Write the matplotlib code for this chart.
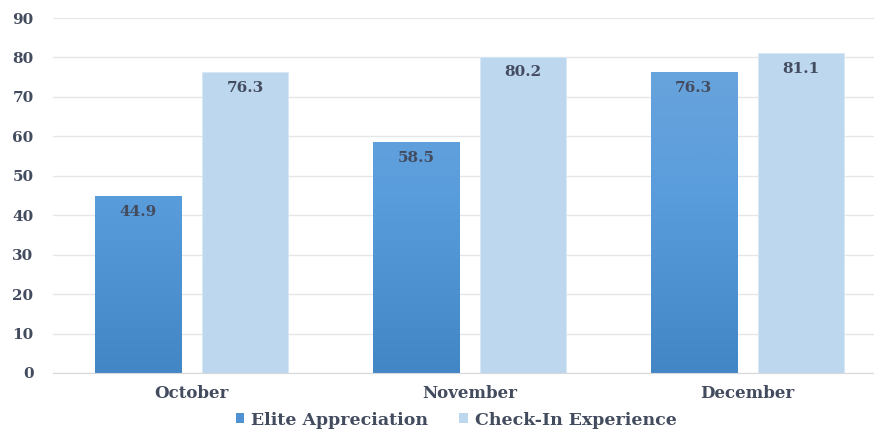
import numpy as np
import matplotlib.pyplot as plt
from matplotlib.patches import Patch
from matplotlib.colors import LinearSegmentedColormap

months = ["October", "November", "December"]
elite = [44.9, 58.5, 76.3]
checkin = [76.3, 80.2, 81.1]
series_names = ["Elite Appreciation", "Check-In Experience"]

text_color = "#434c5e"
plt.rcParams["font.family"] = ["DejaVu Serif"]
plt.rcParams["font.weight"] = "bold"

fig = plt.figure(figsize=(8.74, 4.30), dpi=100)
ax = fig.add_axes([53 / 874, 57 / 430, 833 / 874, 355 / 430])

x = np.arange(len(months))
w = 0.31
off = 0.193

grad = LinearSegmentedColormap.from_list("g", ["#4286c6", "#5a9ddc", "#6ea6dc"])
dark_bars = ax.bar(x - off, elite, w, color="#5b9bd5", edgecolor="#cfe0f2", linewidth=0.6, zorder=2)
light_bars = ax.bar(x + off, checkin, w, color="#bdd7ee", edgecolor="#d8e7f5", linewidth=0.6, zorder=2)

img = np.linspace(0, 1, 256).reshape(-1, 1)
for b in dark_bars:
    bx = b.get_x()
    im = ax.imshow(img, cmap=grad, origin="lower", aspect="auto",
                   extent=[bx, bx + b.get_width(), 0, 90], zorder=2.5)
    im.set_clip_path(b)

for bars, vals in ((dark_bars, elite), (light_bars, checkin)):
    for b, v in zip(bars, vals):
        ax.text(b.get_x() + b.get_width() / 2, v - 2.2, f"{v}", ha="center", va="top",
                fontsize=11, fontweight="bold", color=text_color, zorder=4)

ax.set_xlim(-0.5, 2.5)
ax.set_ylim(0, 90)
ax.set_yticks(range(0, 91, 10))
ax.set_xticks(x)
ax.set_xticklabels(months)
ax.yaxis.grid(True, color="#e4e6ea", linewidth=1.0, zorder=0)
ax.set_axisbelow(True)
for s in ["top", "right", "left"]:
    ax.spines[s].set_visible(False)
ax.spines["bottom"].set_color("#d6d8dc")
ax.tick_params(axis="y", length=0, labelsize=11, colors=text_color, pad=14)
ax.tick_params(axis="x", length=0, labelsize=12, colors=text_color, pad=9)
for lab in ax.get_xticklabels() + ax.get_yticklabels():
    lab.set_fontweight("bold")

handles = [Patch(facecolor="#4f92d4", label=series_names[0]),
           Patch(facecolor="#bdd7ee", label=series_names[1])]
fig.legend(handles=handles, loc="center", bbox_to_anchor=(0.522, 0.023), ncol=2,
           frameon=False, fontsize=12.5, handlelength=0.5, handleheight=0.5,
           handletextpad=0.4, columnspacing=1.8, labelcolor=text_color)

fig.savefig("out.png", dpi=100)
